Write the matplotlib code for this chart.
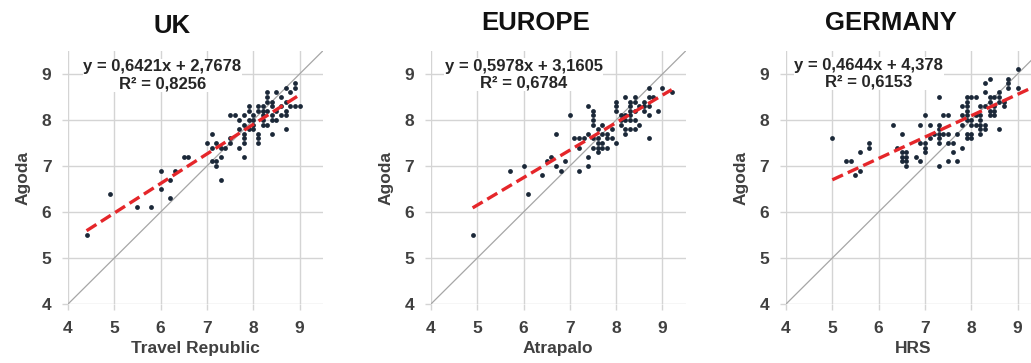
import numpy as np
import matplotlib
matplotlib.use("Agg")
import matplotlib.pyplot as plt

plt.rcParams['font.family'] = ['Liberation Sans', 'DejaVu Sans']

titles = ["UK", "EUROPE", "GERMANY"]
xlabels = ["Travel Republic", "Atrapalo", "HRS"]
ylabel = "Agoda"
slopes = [0.6421, 0.5978, 0.4644]
intercepts = [2.7678, 3.1605, 4.378]
eq_texts = ["y = 0,6421x + 2,7678\nR² = 0,8256",
            "y = 0,5978x + 3,1605\nR² = 0,6784",
            "y = 0,4644x + 4,378\nR² = 0,6153"]
ticks = [4, 5, 6, 7, 8, 9]

uk_x = [4.4, 4.9, 5.5, 5.8, 6.0, 6.0, 6.2, 6.2, 6.3, 6.5, 6.6,
        7.0, 7.1, 7.1, 7.1, 7.2, 7.2, 7.2, 7.3, 7.3, 7.3, 7.4, 7.5, 7.5,
        7.5, 7.6, 7.7, 7.7, 7.7, 7.8, 7.8, 7.8, 7.8, 7.8, 7.8,
        7.9, 7.9, 7.9, 7.9, 8.0, 8.0, 8.0, 8.0,
        8.1, 8.1, 8.1, 8.1, 8.1, 8.2, 8.2, 8.2, 8.2, 8.2,
        8.3, 8.3, 8.3, 8.3, 8.3, 8.4, 8.4, 8.4, 8.4, 8.4,
        8.5, 8.5, 8.5, 8.6, 8.6, 8.6, 8.7, 8.7, 8.7, 8.7, 8.7,
        8.8, 8.8, 8.9, 8.9, 8.9, 9.0]
uk_y = [5.5, 6.4, 6.1, 6.1, 6.9, 6.5, 6.7, 6.3, 6.9, 7.2, 7.2,
        7.5, 7.7, 7.4, 7.1, 7.1, 7.0, 7.5, 7.2, 6.7, 7.4, 7.4, 7.5, 7.6,
        8.1, 8.1, 8.0, 7.8, 7.4, 8.1, 7.9, 7.7, 7.6, 7.5, 7.2,
        8.3, 8.2, 8.0, 7.8, 8.1, 8.0, 7.9, 7.8,
        8.3, 8.2, 7.7, 7.6, 7.5, 8.3, 8.2, 8.1, 8.0, 7.9,
        8.6, 8.5, 8.4, 8.2, 7.9, 8.4, 8.3, 8.1, 8.0, 7.7,
        8.6, 8.2, 8.0, 8.5, 8.3, 8.1, 8.7, 8.4, 8.2, 8.1, 7.8,
        8.6, 8.3, 8.8, 8.7, 8.3, 8.3]

eu_x = [4.9, 5.7, 6.0, 6.1, 6.4, 6.5, 6.6, 6.7, 6.7, 6.8, 6.9, 7.0,
        7.1, 7.2, 7.3, 7.2, 7.2, 7.4, 7.4, 7.4, 7.4,
        7.5, 7.5, 7.5, 7.5, 7.5, 7.5, 7.6, 7.6, 7.6, 7.6, 7.6,
        7.7, 7.7, 7.7, 7.7, 7.8, 7.8, 7.8, 7.9, 7.9,
        8.0, 8.0, 8.0, 8.0, 8.1, 8.1, 8.1,
        8.2, 8.2, 8.2, 8.2, 8.2, 8.3, 8.3, 8.3, 8.3, 8.3, 8.3,
        8.4, 8.4, 8.4, 8.4, 8.4, 8.5, 8.5, 8.6, 8.6, 8.6,
        8.7, 8.7, 8.7, 8.7, 8.7, 8.8, 8.9, 9.0, 9.2]
eu_y = [5.5, 6.9, 7.0, 6.4, 6.8, 7.1, 7.2, 7.7, 7.0, 6.9, 7.1, 8.1,
        7.6, 7.6, 7.6, 6.9, 7.4, 7.0, 7.2, 8.3, 7.7,
        8.2, 8.1, 8.0, 7.9, 7.6, 7.4, 7.8, 7.6, 7.5, 7.4, 7.3,
        7.9, 7.7, 7.5, 7.4, 7.6, 7.4, 7.7, 7.6, 7.8,
        8.4, 8.2, 7.5, 8.3, 8.1, 7.9, 8.0,
        8.5, 8.1, 7.8, 7.7, 8.0, 8.4, 8.3, 8.2, 8.1, 8.0, 7.8,
        8.5, 8.4, 8.2, 8.0, 7.8, 7.9, 8.3, 8.4, 8.3, 8.2,
        8.7, 8.5, 8.1, 7.6, 8.3, 8.5, 8.2, 8.7, 8.6]

de_x = [5.0, 5.3, 5.4, 5.5, 5.6, 5.6, 5.8, 5.8,
        6.3, 6.5, 6.4, 6.5, 6.5, 6.5, 6.6, 6.6, 6.6, 6.6, 6.8, 6.9,
        6.9, 7.0, 7.0, 7.0, 7.0, 6.9, 7.1, 7.1, 7.2,
        7.3, 7.3, 7.3, 7.3, 7.3, 7.3, 7.3,
        7.4, 7.5, 7.4, 7.5, 7.5, 7.6, 7.6, 7.5, 7.7, 7.7, 7.8,
        7.8, 7.8, 7.8,
        7.9, 8.0, 8.1, 7.9, 7.9, 7.9, 7.9, 7.9, 8.0, 8.0, 8.1,
        7.9, 8.0, 7.9, 8.0,
        8.2, 8.3, 8.1, 8.2, 8.2, 8.2, 8.2, 8.3, 8.3, 8.2,
        8.4, 8.3, 8.3, 8.4, 8.4, 8.5, 8.6, 8.5, 8.5, 8.4, 8.4, 8.6, 8.6,
        8.5, 8.6, 8.7, 8.8, 8.8, 8.8, 9.0, 9.0, 8.7, 9.5]
de_y = [7.6, 7.1, 7.1, 6.8, 6.9, 7.3, 7.5, 7.4,
        7.9, 7.7, 7.4, 7.3, 7.2, 7.1, 7.1, 7.0, 7.3, 7.2, 7.2, 7.1,
        7.5, 7.5, 7.4, 7.3, 8.1, 7.9, 7.9, 7.6, 7.7,
        8.5, 7.9, 7.8, 7.7, 7.6, 7.5, 7.0,
        8.1, 8.1, 7.7, 7.7, 7.5, 7.5, 7.3, 7.1, 7.1, 7.7, 7.4,
        8.3, 8.1, 7.9,
        8.5, 8.5, 8.5, 8.4, 8.3, 8.2, 8.1, 8.0, 8.0, 7.9, 7.9,
        7.7, 7.7, 7.6, 7.6,
        8.3, 8.3, 8.1, 8.1, 8.0, 7.9, 7.8, 7.9, 7.8, 7.7,
        8.4, 8.6, 8.8, 8.9, 8.5, 8.5, 8.5, 8.3, 8.2, 8.2, 8.1, 8.6, 8.4,
        8.1, 7.8, 8.3, 8.9, 8.8, 8.7, 9.1, 8.7, 8.4, 8.9]

xs = [uk_x, eu_x, de_x]
ys = [uk_y, eu_y, de_y]

fig = plt.figure(figsize=(10.31, 3.63), dpi=100)
lefts = [0.066, 0.418, 0.7624]
eq_pos = [(6.04, 8.97), (6.0, 8.985), (5.79, 9.01)]
title_pads = [13, 15, 15]

for i in range(3):
    ax = fig.add_axes([lefts[i], 0.1625, 0.247, 0.697])
    ax.set_xlim(4, 9.5)
    ax.set_ylim(4, 9.5)
    ax.set_xticks(ticks)
    ax.set_yticks(ticks)
    for s in ax.spines.values():
        s.set_visible(False)
    ax.grid(True, color='#d4d4d4', lw=1.0, zorder=0)
    ax.set_axisbelow(True)
    ax.tick_params(length=4, width=1.0, color='#d4d4d4', pad=8,
                   labelsize=12.5, labelcolor='#404040')
    for lab in ax.get_xticklabels() + ax.get_yticklabels():
        lab.set_fontweight('bold')
    # identity line
    ax.plot([4, 9.5], [4, 9.5], color='#a6a6a6', lw=0.9, zorder=1)
    ax.scatter(xs[i], ys[i], s=12, color='#1b2838', zorder=3, linewidths=0)
    xr = np.array([min(xs[i]), max(xs[i])])
    ax.plot(xr, slopes[i] * xr + intercepts[i], color='#e5262a', lw=2.4,
            dashes=(3.5, 1.6), zorder=4)
    ax.text(eq_pos[i][0], eq_pos[i][1], eq_texts[i], ha='center', va='center',
            fontsize=12, fontweight='bold', color='#262626', linespacing=1.15,
            multialignment='center', zorder=5,
            bbox=dict(facecolor='white', edgecolor='none', pad=0.5))
    ax.set_xlabel(xlabels[i], fontsize=12.5, fontweight='bold', color='#404040',
                  labelpad=4)
    ax.set_ylabel(ylabel, fontsize=12.5, fontweight='bold', color='#404040',
                  labelpad=8)
    ax.set_title(titles[i], fontsize=18.5, fontweight='bold', color='#111111',
                 x=0.41, pad=title_pads[i])

fig.savefig("out.png", dpi=100)
